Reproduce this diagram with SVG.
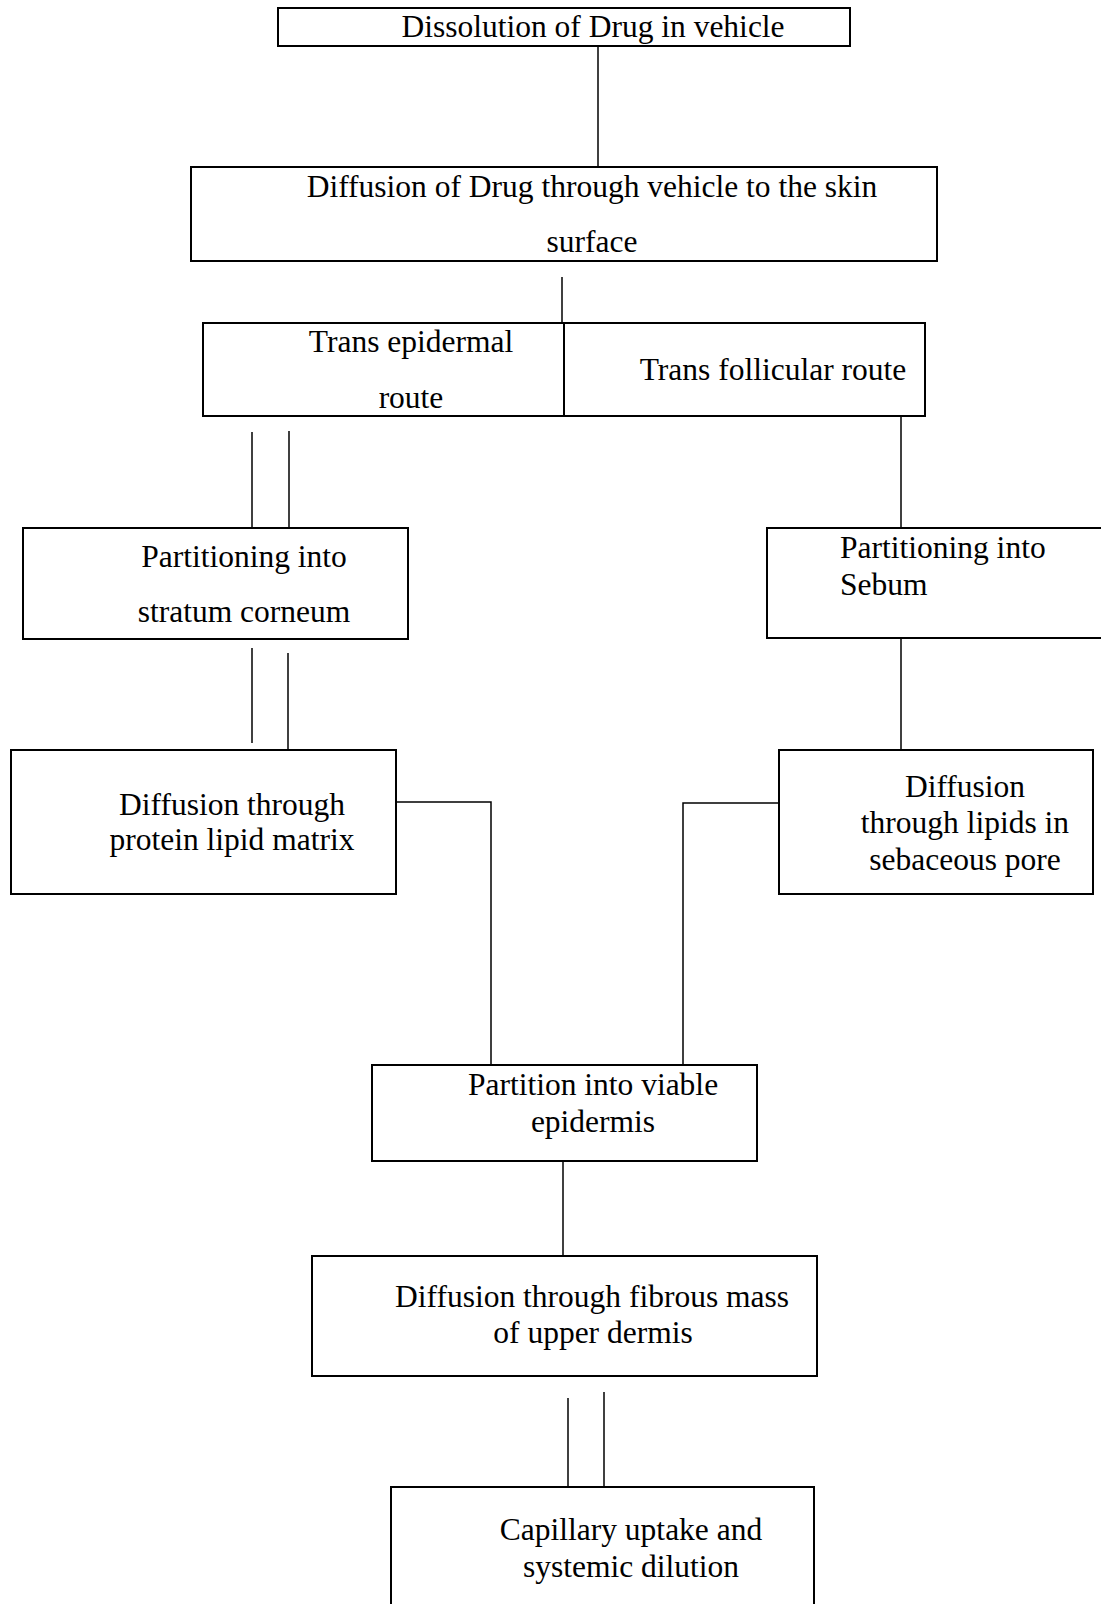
<svg xmlns="http://www.w3.org/2000/svg" width="1101" height="1604" viewBox="0 0 1101 1604">
<style>
.box{fill:#fff;stroke:#000;stroke-width:2}
.c{fill:none;stroke:#000;stroke-width:1.5}
text{font-family:"Liberation Serif","Times New Roman",serif;font-size:31.5px;fill:#000}
.m{text-anchor:middle}
</style>
<rect width="1101" height="1604" fill="#fff"/>
<g id="connectors">
<line class="c" x1="598" y1="46" x2="598" y2="167"/>
<line class="c" x1="562" y1="277" x2="562" y2="396"/>
<line class="c" x1="901" y1="417" x2="901" y2="528"/>
<line class="c" x1="252" y1="432" x2="252" y2="527"/>
<line class="c" x1="289" y1="431" x2="289" y2="528"/>
<line class="c" x1="252" y1="648" x2="252" y2="743"/>
<line class="c" x1="288" y1="653" x2="288" y2="750"/>
<line class="c" x1="901" y1="638" x2="901" y2="750"/>
<polyline class="c" points="396,802 491,802 491,1065"/>
<polyline class="c" points="779,803 683,803 683,1065"/>
<line class="c" x1="563" y1="1161" x2="563" y2="1256"/>
<line class="c" x1="568" y1="1398" x2="568" y2="1493"/>
<line class="c" x1="604" y1="1392" x2="604" y2="1487"/>
</g>
<g id="n1">
<rect class="box" x="278" y="8" width="572" height="38"/>
<text class="m" x="593" y="37">Dissolution of Drug in vehicle</text>
</g>
<g id="n2">
<rect class="box" x="191" y="167" width="746" height="94"/>
<text class="m" x="592" y="197">Diffusion of Drug through vehicle to the skin</text>
<text class="m" x="592" y="252">surface</text>
</g>
<g id="n3">
<rect class="box" x="203" y="323" width="361" height="93"/>
<text class="m" x="411" y="352">Trans epidermal</text>
<text class="m" x="411" y="408">route</text>
</g>
<g id="n4">
<rect class="box" x="564" y="323" width="361" height="93"/>
<text class="m" x="773" y="380">Trans follicular route</text>
</g>
<g id="n5">
<rect class="box" x="23" y="528" width="385" height="111"/>
<text class="m" x="244" y="567">Partitioning into</text>
<text class="m" x="244" y="622">stratum corneum</text>
</g>
<g id="n6">
<rect class="box" x="767" y="528" width="340" height="110"/>
<text x="840" y="558">Partitioning into</text>
<text x="840" y="595">Sebum</text>
</g>
<g id="n7">
<rect class="box" x="11" y="750" width="385" height="144"/>
<text class="m" x="232" y="815">Diffusion through</text>
<text class="m" x="232" y="850">protein lipid matrix</text>
</g>
<g id="n8">
<rect class="box" x="779" y="750" width="314" height="144"/>
<text class="m" x="965" y="797">Diffusion</text>
<text class="m" x="965" y="833">through lipids in</text>
<text class="m" x="965" y="870">sebaceous pore</text>
</g>
<g id="n9">
<rect class="box" x="372" y="1065" width="385" height="96"/>
<text class="m" x="593" y="1095">Partition into viable</text>
<text class="m" x="593" y="1132">epidermis</text>
</g>
<g id="n10">
<rect class="box" x="312" y="1256" width="505" height="120"/>
<text class="m" x="592" y="1307">Diffusion through fibrous mass</text>
<text class="m" x="593" y="1343">of upper dermis</text>
</g>
<g id="n11">
<rect class="box" x="391" y="1487" width="423" height="125"/>
<text class="m" x="631" y="1540">Capillary uptake and</text>
<text class="m" x="631" y="1577">systemic dilution</text>
</g>
</svg>
